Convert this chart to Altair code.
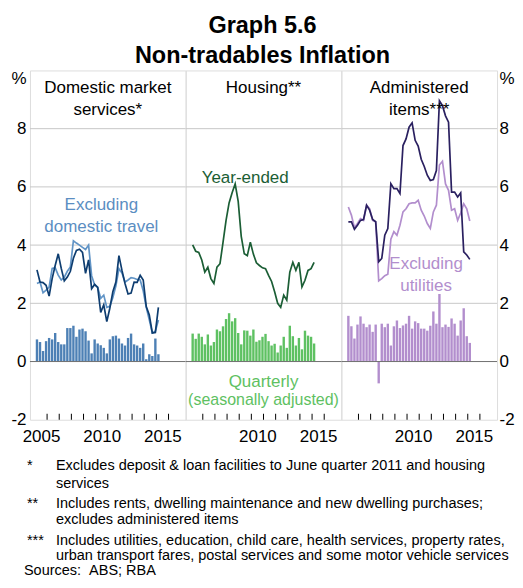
import altair as alt
import pandas as pd

FONT = "Liberation Sans"
W, H = 156, 350

# quarters: March 2005 ... March 2015
quarters = [(y, m) for y in range(2005, 2016) for m in (3, 6, 9, 12)][:41]
t = [y + (m - 1) / 12 for y, m in quarters]

# Domestic market services
dms_quarterly = [0.76, 0.67, 0.36, 0.70, 0.81, 0.76, 0.98, 0.67, 0.59, 0.59,
                 1.15, 1.15, 1.23, 0.85, 1.10, 1.13, 1.04, 0.72, 0.28, 0.76,
                 0.62, 0.56, 0.47, 0.28, 0.76, 0.87, 0.89, 0.79, 0.62, 0.55,
                 0.81, 0.96, 0.59, 0.55, 0.47, 0.62, 0.08, 0.25, 0.19, 0.79, 0.25]
dms_year = [3.15, 2.73, 2.71, 2.62, 2.25, 2.85, 3.30, 3.70, 3.20, 2.77,
            2.90, 3.10, 3.55, 3.82, 3.86, 3.75, 3.03, 3.49, 2.50, 2.65,
            2.55, 1.69, 1.95, 1.37, 1.83, 2.40, 2.73, 3.64, 3.13, 2.68,
            2.32, 2.35, 2.73, 2.72, 2.96, 2.80, 1.89, 1.60, 0.98, 1.00, 1.86]
dms_ex_travel = [2.68, 2.73, 2.36, 2.45, 2.56, 3.20, 3.22, 2.97, 2.80, 2.90,
                 3.10, 3.25, 4.15, 4.07, 4.00, 3.92, 3.85, 4.00, 2.95, 2.63,
                 2.55, 2.17, 2.28, 1.86, 1.90, 2.20, 2.60, 3.19, 3.04, 2.73,
                 2.80, 2.88, 2.86, 2.82, 2.80, 2.43, 1.86, 1.43, 0.98, 1.04, 1.43]

# Housing
housing_quarterly = [0.96, 0.78, 0.96, 0.85, 0.59, 0.93, 0.55, 0.67, 1.10, 1.04,
                     1.21, 1.46, 1.66, 1.38, 1.49, 0.98, 0.59, 1.07, 1.06, 0.89,
                     1.10, 0.68, 0.73, 0.85, 0.95, 0.70, 0.55, 0.61, 0.31, 0.55,
                     0.85, 0.47, 1.23, 0.87, 0.55, 0.81, 0.42, 1.06, 0.89, 0.85, 0.62]
housing_year = [4.01, 3.79, 3.75, 3.49, 3.07, 3.24, 2.85, 2.68, 3.24, 3.36,
                4.09, 4.85, 5.45, 5.80, 6.10, 5.50, 4.30, 3.70, 3.64, 4.10,
                3.69, 3.39, 3.30, 3.22, 3.19, 2.96, 2.75, 2.40, 2.00, 1.86,
                2.28, 2.11, 3.07, 3.41, 3.13, 3.41, 2.56, 2.79, 3.13, 3.19, 3.41]

# Administered items
admin_quarterly = [1.57, 1.21, 0.79, 1.27, 1.55, 1.30, 1.18, 1.27, 1.02, 1.27,
                   -0.75, 1.30, 1.18, 1.30, 0.55, 1.21, 1.41, 1.15, 1.24, 1.30,
                   1.57, 1.13, 1.38, 1.32, 1.13, 1.13, 1.06, 1.23, 1.72, 1.30,
                   2.32, 1.18, 1.27, 1.19, 1.48, 1.30, 0.89, 1.41, 1.83, 0.87, 0.64]
admin_year = [4.80, 4.80, 4.54, 4.68, 4.85, 4.88, 5.37, 5.20, 4.88, 4.80,
              3.43, 3.54, 4.34, 4.57, 6.11, 5.94, 5.94, 5.77, 7.42, 7.65,
              8.05, 8.20, 7.60, 7.40, 6.95, 6.70, 6.40, 6.22, 6.25, 6.56,
              8.96, 8.79, 8.44, 8.22, 5.82, 5.82, 5.65, 5.79, 3.77, 3.66, 3.51]
admin_ex_utilities = [5.31, 5.03, 4.60, 4.74, 4.91, 4.85, 5.37, 5.25, 4.85, 4.80,
                      2.77, 2.85, 2.95, 3.00, 4.20, 4.46, 4.34, 4.68, 5.14, 5.25,
                      5.42, 5.45, 5.45, 5.54, 5.20, 5.00, 4.74, 4.57, 5.14, 5.37,
                      6.75, 6.88, 6.10, 5.88, 5.20, 5.25, 4.85, 5.10, 5.42, 5.25, 4.83]

tick_years = list(range(2006, 2017))
y_labels = [-2, 0, 2, 4, 6, 8]
grid_levels = [2, 4, 6, 8]

footnote_markers = ["*", "**", "***"]
footnote_texts = [
    ["Excludes deposit & loan facilities to June quarter 2011 and housing", "services"],
    ["Includes rents, dwelling maintenance and new dwelling purchases;", "excludes administered items"],
    ["Includes utilities, education, child care, health services, property rates,",
     "urban transport fares, postal services and some motor vehicle services"],
]
sources = "Sources:\u00a0\u00a0ABS; RBA"

xs = alt.Scale(domain=[2005, 2017], nice=False, zero=False)
ys = alt.Scale(domain=[-2, 10], nice=False)
dummy = pd.DataFrame({"a": [0]})
Y_LABEL_EXPR = "datum.value < 0 ? '-' + abs(datum.value) : datum.label"


def x_axis(label_years):
    return alt.Axis(values=[y + 0.5 for y in label_years], labelExpr="floor(datum.value)",
                    ticks=False, tickSize=0, domain=False, grid=False, labelFontSize=17,
                    labelFont=FONT, labelColor="black", labelPadding=9, labelFlush=False,
                    title=None)


def y_axis(orient):
    if orient is None:
        return None
    left = orient == "left"
    return alt.Axis(orient=orient, values=y_labels, labelExpr=Y_LABEL_EXPR, domain=False,
                    ticks=False, tickSize=0, grid=False, labelFontSize=17, labelFont=FONT,
                    labelColor="black", labelPadding=4 if left else 2, title="%",
                    titleAngle=0, titleX=-4 if left else 2, titleY=8,
                    titleAlign="right" if left else "left", titleBaseline="middle",
                    titleFontSize=17, titleFontWeight="normal", titleFont=FONT,
                    titleColor="black")


def label(text, x, y, color, size=17, align="center", lh=22):
    return alt.Chart(dummy).mark_text(text=text, color=color, fontSize=size, font=FONT,
                                      align=align, baseline="alphabetic", lineHeight=lh).encode(
        x=alt.datum(x), y=alt.datum(y))


def panel(bars, bar_color, series, label_years, orient, labels):
    data = {"t": t, "q": bars}
    for name, vals, _ in series:
        data[name] = vals
    df = pd.DataFrame(data)
    ax = y_axis(orient)
    X = alt.X("t:Q", scale=xs, axis=x_axis(label_years))

    def Y(f):
        return alt.Y(f, scale=ys, axis=ax)

    layers = [
        alt.Chart(pd.DataFrame({"g": grid_levels})).mark_rule(color="#c8c8c8", strokeWidth=1)
        .encode(y=Y("g:Q")),
        alt.Chart(df).mark_bar(color=bar_color, size=2.4).encode(x=X, y=Y("q:Q"), y2=alt.datum(0)),
        alt.Chart(pd.DataFrame({"z": [0]})).mark_rule(color="#707070", strokeWidth=1)
        .encode(y=Y("z:Q")),
    ]
    for name, _, color in series:
        layers.append(alt.Chart(df).mark_line(color=color, strokeWidth=1.7)
                      .encode(x=X, y=Y(f"{name}:Q")))
    layers += labels
    layers.append(alt.Chart(pd.DataFrame({"yr": tick_years})).mark_rule(color="black", strokeWidth=1)
                  .encode(x=alt.X("yr:Q", scale=xs, axis=x_axis(label_years)),
                          y=alt.value(H), y2=alt.value(H - 6)))
    return alt.layer(*layers).properties(width=W, height=H)


p1 = panel(dms_quarterly, "#4d80b5",
           [("ex", dms_ex_travel, "#6194c6"), ("yr", dms_year, "#0e3d70")],
           [2005, 2010, 2015], "left",
           [label(["Domestic market", "services*"], 2011.0, 9.21, "black"),
            label(["Excluding", "domestic travel"], 2010.47, 5.2, "#5b8ec2")])
p2 = panel(housing_quarterly, "#5ec162",
           [("yr", housing_year, "#1b5e35")],
           [2010, 2015], None,
           [label("Housing**", 2011.0, 9.21, "black"),
            label("Year-ended", 2005.91, 6.12, "#1b5e35", align="left"),
            label("Quarterly", 2011.0, -0.89, "#5ec162"),
            label("(seasonally adjusted)", 2011.0, -1.5, "#5ec162", size=16)])
p3 = panel(admin_quarterly, "#b28ecd",
           [("ex", admin_ex_utilities, "#b28ecd"), ("yr", admin_year, "#2a2060")],
           [2010, 2015], "right",
           [label(["Administered", "items***"], 2011.0, 9.21, "black"),
            label(["Excluding", "utilities"], 2011.57, 3.17, "#b28ecd", lh=21.5)])

top = alt.hconcat(p1, p2, p3, spacing=0, bounds="flush").properties(
    title=alt.TitleParams(text=["Graph 5.6", "Non-tradables Inflation"], fontSize=23.5,
                          font=FONT, fontWeight="bold", color="black", anchor="middle",
                          lineHeight=31, offset=1))

rows = []
line_y = [23, 41, 61, 77, 98, 114]
k = 0
for mark, lines in zip(footnote_markers, footnote_texts):
    rows.append({"x": -3, "y": line_y[k], "text": mark})
    for ln in lines:
        rows.append({"x": 26, "y": line_y[k], "text": ln})
        k += 1
rows.append({"x": -6, "y": 129, "text": sources})
notes_df = pd.DataFrame(rows)

notes = alt.Chart(notes_df).mark_text(align="left", baseline="alphabetic", fontSize=14.5,
                                      font=FONT, color="black").encode(
    x=alt.X("x:Q", scale=None, axis=None),
    y=alt.Y("y:Q", scale=None, axis=None),
    text="text:N").properties(width=3 * W, height=129,
                              view=alt.ViewBackground(stroke="transparent"))

chart = alt.vconcat(top, notes, spacing=0).properties(
    padding={"left": 2, "top": 5, "right": 0, "bottom": 0}
).configure_view(stroke="black", strokeWidth=1).configure(font=FONT)

chart.save("out.html", embed_options={"renderer": "svg", "actions": False})
